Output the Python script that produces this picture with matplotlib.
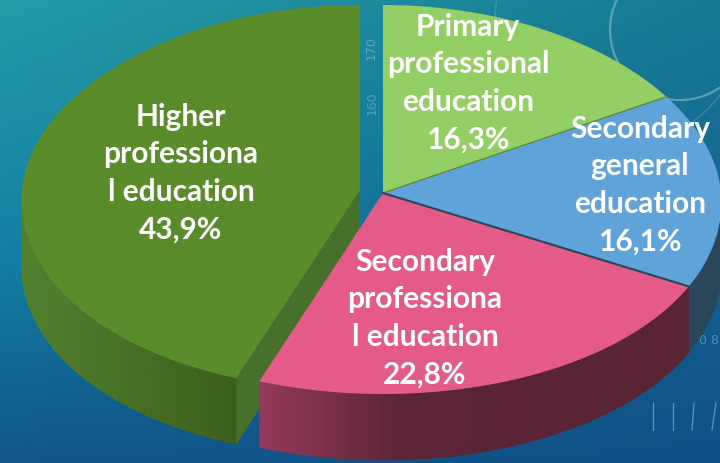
import matplotlib.pyplot as plt
from matplotlib.colors import to_rgb
import numpy as np

labels = ['Primary\nprofessional\neducation', 'Secondary\ngeneral\neducation',
          'Secondary\nprofessiona\nl education', 'Higher\nprofessiona\nl education']
values = [16.3, 16.1, 22.8, 43.9]
top_colors = ['#94cf66', '#5fa3d8', '#e45b8a', '#5a8c2c']
# label centres in pixels
label_x = [468, 640, 425, 181]
label_y = [83, 185, 318, 173]

RX = 338
DEPTH = 66


def rim(theta, cx, cy, up, down):
    # point on the tilted pie edge, theta clockwise from the top, degrees
    t = np.radians(theta)
    c = np.cos(t)
    # near side of the pie looks a little wider
    return cx + RX * (1 - 0.047 * c) * np.sin(t), cy - np.where(c > 0, up, down) * c


def draw_wall(ax, t0, t1, centre, stops):
    cx, cy, up, down = centre
    xs = [s[0] for s in stops]
    rgb = np.array([to_rgb(s[1]) for s in stops])
    for a in np.arange(t0, t1, 1.0):
        b = min(a + 1.0, t1)
        th = np.linspace(a, b, 3)
        x, y = rim(th, cx, cy, up, down)
        col = [np.interp(x.mean(), xs, rgb[:, i]) for i in range(3)]
        ax.fill(np.r_[x, x[::-1]], np.r_[y, y[::-1] + DEPTH], color=col, lw=0.5, zorder=2)


def draw_top(ax, t0, t1, centre, color):
    cx, cy, up, down = centre
    x, y = rim(np.linspace(t0, t1, 200), cx, cy, up, down)
    ax.fill(np.r_[cx, x], np.r_[cy, y], color=color, lw=0, zorder=3)


fig = plt.figure(figsize=(7.2, 4.63), dpi=100)
ax = fig.add_axes([0, 0, 1, 1])

# background gradient
yy, xx = np.mgrid[0:1:232j, 0:1:360j]
left = np.array([to_rgb(c) for c in ('#239ca6', '#137fa5', '#105587')])
right = np.array([to_rgb(c) for c in ('#177a94', '#14608f', '#104f85')])
bg = np.zeros(yy.shape + (3,))
for i in range(3):
    lc = np.interp(yy, [0, 0.55, 1], left[:, i])
    rc = np.interp(yy, [0, 0.55, 1], right[:, i])
    bg[..., i] = lc * (1 - xx) + rc * xx
ax.imshow(bg, extent=(0, 720, 463, 0), aspect='auto', zorder=0)

# faint decorations behind the pie
deco = '#8fc3cf'
th = np.linspace(0, 2 * np.pi, 200)
ax.plot(680 + 70 * np.cos(th), 30 + 70 * np.sin(th), color=deco, alpha=0.55, lw=1.6, zorder=1)
ax.plot(620 + 125 * np.cos(th), 20 + 125 * np.sin(th), color=deco, alpha=0.25, lw=1.2, zorder=1)
ax.text(371, 48, '170', color=deco, alpha=0.6, fontsize=9, rotation=90, ha='center', va='center', zorder=1)
ax.text(372, 103, '160', color=deco, alpha=0.5, fontsize=9, rotation=90, ha='center', va='center', zorder=1)
ax.text(709, 341, '0 8', color=deco, alpha=0.5, fontsize=9, ha='center', va='center', zorder=1)
for tx, lean in zip([653, 673, 692, 712], [0, 0, 2, 4]):
    ax.plot([tx + lean, tx], [403, 430], color=deco, alpha=0.6, lw=0.9, zorder=1)

edges = np.r_[0, np.cumsum(values)] / np.sum(values) * 360
main = (383, 193, 188, 201)
higher = (360, 190, 185, 201)

# higher education slice: wall and cut face first
draw_wall(ax, edges[3], 270, higher, [(22, '#52812d'), (236, '#3d5f1c')])
cx, cy, up, down = higher
ex, ey = rim(edges[3], cx, cy, up, down)
ax.fill([cx, ex, ex, cx], [cy, ey, ey + DEPTH, cy + DEPTH], color='#47702a', lw=0, zorder=2)
draw_top(ax, edges[3], 360, higher, top_colors[3])

# the others sit on top of it
draw_wall(ax, 90, edges[2], main, [(600, '#2a4759'), (720, '#2a4759')])
draw_wall(ax, edges[2], edges[3], main, [(261, '#93395a'), (400, '#5c2436'), (690, '#5a2435')])
for i in [2, 1, 0]:
    draw_top(ax, edges[i], edges[i + 1], main, top_colors[i])

# thin dark seams between slices
x1, y1 = rim(edges[1], *main)
x2, y2 = rim(edges[2], *main)
ax.plot([main[0], x1], [main[1], y1], color='#5f8a3c', lw=1, zorder=4)
ax.plot([main[0], x2], [main[1], y2], color='#2a4759', lw=1.5, zorder=4)

for name, val, lx, ly in zip(labels, values, label_x, label_y):
    txt = name + '\n' + f'{val:.1f}'.replace('.', ',') + '%'
    ax.text(lx, ly, txt, color='white', fontsize=21.5, fontweight='bold', family='Lato',
            ha='center', va='center', linespacing=1.42, zorder=5)

ax.set_xlim(0, 720)
ax.set_ylim(463, 0)
ax.axis('off')
fig.savefig('out.png', dpi=100)
